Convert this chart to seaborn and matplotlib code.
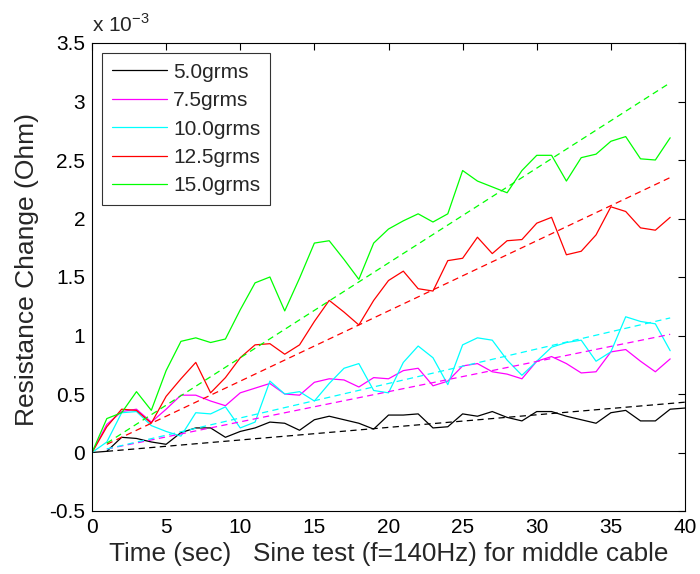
import numpy as np
import pandas as pd
import matplotlib
matplotlib.use("Agg")
import matplotlib.pyplot as plt
import seaborn as sns

# ---- data (values in units of 1e-3 Ohm) ----
labels = ["5.0grms", "7.5grms", "10.0grms", "12.5grms", "15.0grms"]
colors = ["#000000", "#ff00ff", "#00ffff", "#ff0000", "#00ff00"]

black = [0, 0.01, 0.13, 0.12, 0.09, 0.07, 0.17, 0.21, 0.21, 0.13, 0.18, 0.21, 0.26, 0.25,
         0.19, 0.28, 0.31, 0.28, 0.25, 0.20, 0.32, 0.32, 0.33, 0.21, 0.22, 0.33, 0.31, 0.35,
         0.30, 0.27, 0.35, 0.35, 0.31, 0.28, 0.25, 0.34, 0.36, 0.27, 0.27, 0.37, 0.38]
magenta = [0, 0.24, 0.35, 0.37, 0.26, 0.37, 0.49, 0.49, 0.44, 0.40, 0.51, 0.55, 0.59, 0.50,
           0.49, 0.60, 0.63, 0.62, 0.56, 0.64, 0.63, 0.70, 0.72, 0.57, 0.61, 0.74, 0.76, 0.69,
           0.67, 0.63, 0.78, 0.82, 0.76, 0.68, 0.69, 0.86, 0.88, 0.78, 0.69, 0.80]
cyan = [0, 0.09, 0.34, 0.35, 0.23, 0.18, 0.14, 0.34, 0.33, 0.39, 0.21, 0.26, 0.61, 0.50,
        0.52, 0.44, 0.59, 0.72, 0.76, 0.53, 0.51, 0.77, 0.91, 0.81, 0.58, 0.92, 0.98, 0.96,
        0.79, 0.66, 0.78, 0.90, 0.94, 0.96, 0.78, 0.86, 1.16, 1.12, 1.10, 0.87]
red = [0, 0.22, 0.37, 0.36, 0.25, 0.48, 0.63, 0.77, 0.51, 0.64, 0.81, 0.92, 0.93, 0.84,
       0.92, 1.12, 1.30, 1.20, 1.09, 1.30, 1.47, 1.55, 1.40, 1.38, 1.64, 1.66, 1.84, 1.70,
       1.81, 1.82, 1.96, 2.01, 1.69, 1.72, 1.86, 2.10, 2.06, 1.92, 1.90, 2.01]
green = [0, 0.29, 0.34, 0.52, 0.36, 0.70, 0.95, 0.98, 0.94, 0.97, 1.22, 1.45, 1.50, 1.21,
         1.49, 1.79, 1.81, 1.65, 1.48, 1.79, 1.91, 1.98, 2.04, 1.97, 2.04, 2.41, 2.32, 2.27,
         2.22, 2.41, 2.54, 2.54, 2.32, 2.52, 2.55, 2.66, 2.70, 2.51, 2.50, 2.69]
series = [black, magenta, cyan, red, green]

# linear-fit (dashed) endpoints
fit_t_start = [1, 1, 1, 1, 1]
fit_t_end = [40, 39, 39, 39, 39]
fit_v_start = [0.01, 0.03, 0.03, 0.07, 0.08]
fit_v_end = [0.43, 1.01, 1.15, 2.35, 3.16]

xticks = [0, 5, 10, 15, 20, 25, 30, 35, 40]
yticks = [-0.5, 0, 0.5, 1, 1.5, 2, 2.5, 3, 3.5]

# ---- build tables ----
rows = []
for lab, vals in zip(labels, series):
    for t, v in enumerate(vals):
        rows.append({"time": t, "value": v, "series": lab})
df = pd.DataFrame(rows)

frows = []
for lab, t0, t1, v0, v1 in zip(labels, fit_t_start, fit_t_end, fit_v_start, fit_v_end):
    frows.append({"time": t0, "value": v0, "series": lab})
    frows.append({"time": t1, "value": v1, "series": lab})
fdf = pd.DataFrame(frows)

sns.set_style("white")
plt.rcParams["font.family"] = ["Liberation Sans", "DejaVu Sans"]
plt.rcParams["axes.unicode_minus"] = False

fig = plt.figure(figsize=(7.0, 5.74), dpi=100)
ax = fig.add_axes([92 / 700, 1 - 511 / 574, (685 - 92) / 700, (511 - 43) / 574])

palette = dict(zip(labels, colors))
sns.lineplot(data=df, x="time", y="value", hue="series", hue_order=labels,
             palette=palette, lw=0.9, ax=ax, estimator=None, sort=False)
for lab in labels:
    sub = fdf[fdf["series"] == lab]
    sns.lineplot(data=sub, x="time", y="value", color=palette[lab], lw=0.9,
                 linestyle=(0, (5, 3.5)), ax=ax, legend=False, estimator=None)

ax.set_xlim(0, 40)
ax.set_ylim(-0.5, 3.5)
ax.set_xticks(xticks)
ax.set_yticks(yticks)
ax.set_xticklabels([f"{v:g}" for v in xticks])
ax.set_yticklabels([f"{v:g}" for v in yticks])
ax.tick_params(direction="in", length=5, width=0.8, top=True, right=True,
               labelsize=15, colors="black", pad=5)
for s in ax.spines.values():
    s.set_visible(True)
    s.set_color("black")
    s.set_linewidth(0.8)

ax.set_xlabel("Time (sec)   Sine test (f=140Hz) for middle cable", fontsize=18.8, labelpad=4)
ax.set_ylabel("Resistance Change (Ohm)", fontsize=19)
ax.yaxis.set_label_coords(-0.09, 0.517)

ax.text(0.0, 1.015, r"x 10$^{\mathregular{-3}}$", transform=ax.transAxes,
        fontsize=15, ha="left", va="bottom")

leg = ax.legend(loc="upper left", fontsize=15, frameon=True, fancybox=False,
                edgecolor="black", handlelength=2.65, handletextpad=0.3,
                borderpad=0.45, labelspacing=0.45, borderaxespad=0.5)
leg.get_frame().set_linewidth(0.8)
for line in leg.get_lines():
    line.set_linewidth(0.9)

fig.savefig("out.png", dpi=100)
